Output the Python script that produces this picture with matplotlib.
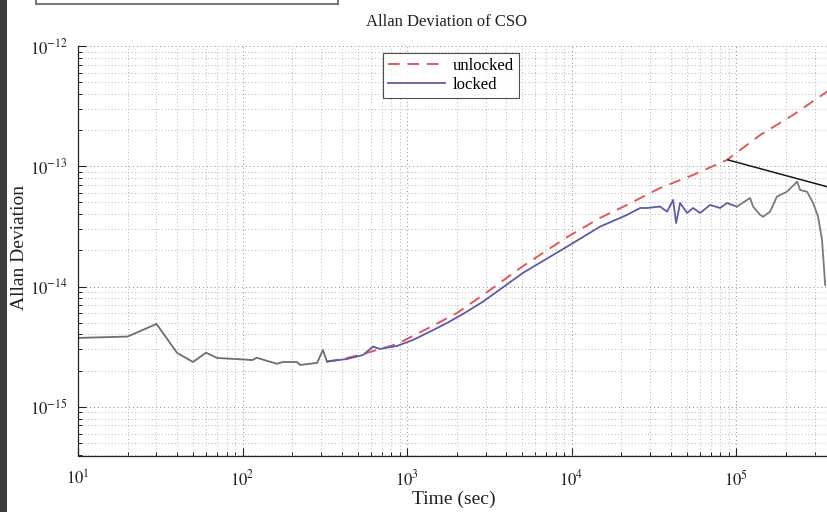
import numpy as np
import matplotlib
matplotlib.use("Agg")
import matplotlib.pyplot as plt
from matplotlib.patches import Rectangle
from matplotlib.ticker import LogLocator, FixedLocator, NullFormatter

plt.rcParams['font.family'] = ['Liberation Serif', 'DejaVu Serif']
plt.rcParams['mathtext.fontset'] = 'stix'

# ---- data ----
gray_low_tau = [10, 20, 30, 40, 50, 60, 70, 115, 122, 141, 162, 176, 214, 224, 284, 308, 326]
gray_low_adev = [3.74e-15, 3.84e-15, 4.89e-15, 2.81e-15, 2.36e-15, 2.82e-15, 2.55e-15, 2.45e-15,
                 2.56e-15, 2.41e-15, 2.28e-15, 2.36e-15, 2.36e-15, 2.23e-15, 2.32e-15, 2.97e-15, 2.38e-15]

locked_tau = [326, 432, 541, 621, 685, 869, 1087, 1380, 1750, 2190, 2900, 5070, 9400, 14900,
              21700, 26100, 28800, 33100, 34500, 38100, 41400, 43200, 45700, 50400, 54800, 60400,
              69500, 80000, 88100, 101000]
locked_adev = [2.38e-15, 2.50e-15, 2.70e-15, 3.17e-15, 3.03e-15, 3.21e-15, 3.60e-15, 4.22e-15,
               4.98e-15, 5.92e-15, 7.50e-15, 1.30e-14, 2.15e-14, 3.15e-14,
               3.94e-14, 4.50e-14, 4.50e-14, 4.60e-14, 4.62e-14, 4.20e-14, 5.25e-14, 3.38e-14,
               4.95e-14, 4.09e-14, 4.50e-14, 4.09e-14, 4.77e-14, 4.50e-14, 4.95e-14, 4.62e-14]

gray_high_tau = [101000, 116700, 121600, 126900, 140000, 146000, 161000, 177000, 204000, 235000,
                 245000, 270000, 294000, 315000, 333000, 348000]
gray_high_adev = [4.62e-14, 5.25e-14, 5.45e-14, 4.62e-14, 3.94e-14, 3.81e-14, 4.20e-14, 5.59e-14,
                  6.15e-14, 7.45e-14, 6.35e-14, 6.15e-14, 4.95e-14, 3.81e-14, 2.44e-14, 1.03e-14]

unlocked_tau = [326, 408, 541, 869, 1440, 2010, 2900, 5070, 9400, 14900, 21700, 34500, 54800,
                88100, 140000, 222000, 362000]
unlocked_adev = [2.38e-15, 2.50e-15, 2.75e-15, 3.33e-15, 4.73e-15, 6.03e-15, 8.51e-15, 1.48e-14,
                 2.58e-14, 3.72e-14, 4.77e-14, 6.60e-14, 8.47e-14, 1.13e-13, 1.82e-13,
                 2.67e-13, 4.23e-13]

slope_tau = [89300, 362000]
slope_adev = [1.13e-13, 6.73e-14]

xlim = (10, 3.62e5)
ylim = (3.94e-16, 1e-12)
xticks = [1e1, 1e2, 1e3, 1e4, 1e5]
xticklabels = [r'$10^{1}$', r'$10^{2}$', r'$10^{3}$', r'$10^{4}$', r'$10^{5}$']
yticks = [1e-15, 1e-14, 1e-13, 1e-12]
yticklabels = [r'$10^{-15}$', r'$10^{-14}$', r'$10^{-13}$', r'$10^{-12}$']

W, H = 828, 512
fig = plt.figure(figsize=(W / 100, H / 100), dpi=100)
fig.patch.set_facecolor('white')
ax = fig.add_axes([78 / W, 1 - 455.5 / H, 750 / W, (455.5 - 46) / H])
ax.set_xscale('log')
ax.set_yscale('log')

ax.plot(gray_low_tau, gray_low_adev, color='#6e6e6e', lw=1.3)
ax.plot(unlocked_tau, unlocked_adev, color='#e05a5a', lw=1.4, ls=(0, (6, 4)), label='unlocked')
ax.plot(locked_tau, locked_adev, color='#5c5ca6', lw=1.3, label='locked')
ax.plot(gray_high_tau, gray_high_adev, color='#7a7a7a', lw=1.3)
ax.plot(slope_tau, slope_adev, color='#1a1a10', lw=1.1)

ax.set_xlim(*xlim)
ax.set_ylim(*ylim)
ax.xaxis.set_major_locator(FixedLocator(xticks))
ax.set_xticklabels(xticklabels)
ax.yaxis.set_major_locator(FixedLocator(yticks))
ax.set_yticklabels(yticklabels)
ax.xaxis.set_minor_locator(LogLocator(base=10, subs=np.arange(2, 10), numticks=20))
ax.yaxis.set_minor_locator(LogLocator(base=10, subs=np.arange(2, 10), numticks=20))
ax.xaxis.set_minor_formatter(NullFormatter())
ax.yaxis.set_minor_formatter(NullFormatter())

ax.tick_params(which='major', direction='in', length=6, width=0.8, labelsize=12, colors='#222222')
ax.tick_params(which='minor', direction='in', length=3, width=0.6)
ax.tick_params(axis='x', which='major', pad=10)
ax.tick_params(axis='y', which='major', pad=7)
ax.grid(True, which='major', ls=(0, (1, 3)), color='#8a8a8a', lw=0.7)
ax.grid(True, which='minor', ls=(0, (1, 3)), color='#a0a0a0', lw=0.6)
for s in ['top', 'right']:
    ax.spines[s].set_visible(False)
for s in ['left', 'bottom']:
    ax.spines[s].set_color('#222222')
    ax.spines[s].set_linewidth(0.9)

leg = ax.legend(loc='upper left', bbox_to_anchor=(383 / W, 1 - 53 / H), bbox_transform=fig.transFigure,
                fancybox=False, frameon=True, edgecolor='#222222', fontsize=12, handlelength=3.4,
                borderpad=0.3, labelspacing=0.2, handletextpad=0.5, borderaxespad=0)
leg.get_frame().set_linewidth(0.8)

fig.text(447 / W, 1 - 22 / H, 'Allan Deviation of CSO', ha='center', va='center', fontsize=12, color='#222222')
fig.text(454 / W, 1 - 499 / H, 'Time (sec)', ha='center', va='center', fontsize=14, color='#222222')
fig.text(20 / W, 1 - 247 / H, 'Allan Deviation', ha='center', va='center', rotation=90, fontsize=14, color='#222222')

# left dark band and top box from the slide
fig.patches.append(Rectangle((0, 0), 7 / W, 1, transform=fig.transFigure, facecolor='#3b3e38', edgecolor='none'))
fig.patches.append(Rectangle((36 / W, 1 - 4 / H), (338 - 36) / W, 10 / H, transform=fig.transFigure,
                             facecolor='white', edgecolor='#7a7a7a', lw=1.5))

fig.savefig('out.png', dpi=100)
